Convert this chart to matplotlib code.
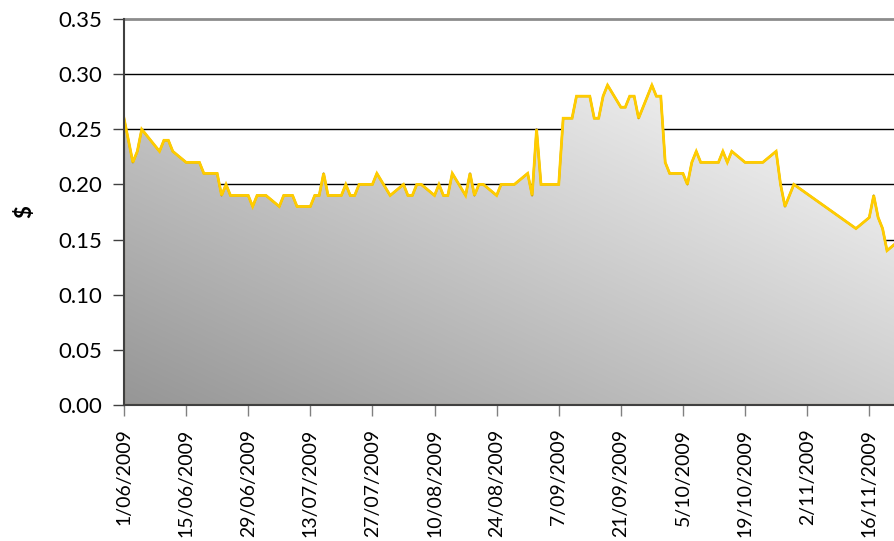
import matplotlib
matplotlib.use("Agg")
import matplotlib.pyplot as plt
import matplotlib.dates as mdates
import numpy as np
import datetime as dt

plt.rcParams['font.family'] = ['Lato', 'DejaVu Sans']

dates = [
    "2009-06-01", "2009-06-03", "2009-06-04", "2009-06-05", "2009-06-09", "2009-06-10",
    "2009-06-11", "2009-06-12", "2009-06-15", "2009-06-18", "2009-06-19", "2009-06-22",
    "2009-06-23", "2009-06-24", "2009-06-25", "2009-06-29", "2009-06-30", "2009-07-01",
    "2009-07-03", "2009-07-06", "2009-07-07", "2009-07-09", "2009-07-10", "2009-07-13",
    "2009-07-14", "2009-07-15", "2009-07-16", "2009-07-17", "2009-07-20", "2009-07-21",
    "2009-07-22", "2009-07-23", "2009-07-24", "2009-07-27", "2009-07-28", "2009-07-31",
    "2009-08-03", "2009-08-04", "2009-08-05", "2009-08-06", "2009-08-07", "2009-08-10",
    "2009-08-11", "2009-08-12", "2009-08-13", "2009-08-14", "2009-08-17", "2009-08-18",
    "2009-08-19", "2009-08-20", "2009-08-21", "2009-08-24", "2009-08-25", "2009-08-28",
    "2009-08-31", "2009-09-01", "2009-09-02", "2009-09-03", "2009-09-07", "2009-09-08",
    "2009-09-10", "2009-09-11", "2009-09-14", "2009-09-15", "2009-09-16", "2009-09-17",
    "2009-09-18", "2009-09-21", "2009-09-22", "2009-09-23", "2009-09-24", "2009-09-25",
    "2009-09-28", "2009-09-29", "2009-09-30", "2009-10-01", "2009-10-02", "2009-10-05",
    "2009-10-06", "2009-10-07", "2009-10-08", "2009-10-09", "2009-10-13", "2009-10-14",
    "2009-10-15", "2009-10-16", "2009-10-19", "2009-10-23", "2009-10-26", "2009-10-27",
    "2009-10-28", "2009-10-29", "2009-10-30", "2009-11-13", "2009-11-16", "2009-11-17",
    "2009-11-18", "2009-11-19", "2009-11-20", "2009-11-23",
]
prices = [
    0.26, 0.22, 0.23, 0.25, 0.23, 0.24,
    0.24, 0.23, 0.22, 0.22, 0.21, 0.21,
    0.19, 0.20, 0.19, 0.19, 0.18, 0.19,
    0.19, 0.18, 0.19, 0.19, 0.18, 0.18,
    0.19, 0.19, 0.21, 0.19, 0.19, 0.20,
    0.19, 0.19, 0.20, 0.20, 0.21, 0.19,
    0.20, 0.19, 0.19, 0.20, 0.20, 0.19,
    0.20, 0.19, 0.19, 0.21, 0.19, 0.21,
    0.19, 0.20, 0.20, 0.19, 0.20, 0.20,
    0.21, 0.19, 0.25, 0.20, 0.20, 0.26,
    0.26, 0.28, 0.28, 0.26, 0.26, 0.28,
    0.29, 0.27, 0.27, 0.28, 0.28, 0.26,
    0.29, 0.28, 0.28, 0.22, 0.21, 0.21,
    0.20, 0.22, 0.23, 0.22, 0.22, 0.23,
    0.22, 0.23, 0.22, 0.22, 0.23, 0.20,
    0.18, 0.19, 0.20, 0.16, 0.17, 0.19,
    0.17, 0.16, 0.14, 0.15,
]
tick_dates = ["2009-06-01", "2009-06-15", "2009-06-29", "2009-07-13", "2009-07-27",
              "2009-08-10", "2009-08-24", "2009-09-07", "2009-09-21", "2009-10-05",
              "2009-10-19", "2009-11-02", "2009-11-16"]
tick_labels = ["1/06/2009", "15/06/2009", "29/06/2009", "13/07/2009", "27/07/2009",
               "10/08/2009", "24/08/2009", "7/09/2009", "21/09/2009", "5/10/2009",
               "19/10/2009", "2/11/2009", "16/11/2009"]
y_ticks = [0.00, 0.05, 0.10, 0.15, 0.20, 0.25, 0.30, 0.35]
y_label = "$"

x = mdates.date2num([dt.datetime.strptime(d, "%Y-%m-%d") for d in dates])
xt = mdates.date2num([dt.datetime.strptime(d, "%Y-%m-%d") for d in tick_dates])
y = np.array(prices)

W, H = 895, 541
fig = plt.figure(figsize=(W / 100, H / 100), dpi=100)
ax = fig.add_axes([124 / W, (H - 405) / H, (W - 124) / W, (405 - 19) / H])

x0 = x[0]
x1 = x0 + 173.8
ax.set_xlim(x0, x1)
ax.set_ylim(0, 0.35)

# gridlines
for v in y_ticks[1:-1]:
    ax.axhline(v, color='black', lw=1.0, zorder=1)
ax.axhline(0.35, color='#8c8c8c', lw=2.0, zorder=1, clip_on=False)

# gradient fill clipped to area
poly = ax.fill_between(x, y, 0, facecolor='none', edgecolor='#9a7c10', lw=1.5, zorder=3)
ny, nx = 200, 400
gx = np.linspace(0, 1, nx)
gy = np.linspace(0, 1, ny)
GX, GY = np.meshgrid(gx, gy)
G = np.clip(150 + 54 * GX + 59 * GY, 0, 250) / 255.0
rgb = np.dstack([G, G, G])
im = ax.imshow(rgb, origin='lower', aspect='auto',
               extent=[x0, x1, 0, 0.35], zorder=2, interpolation='bilinear')
path = poly.get_paths()[0]
im.set_clip_path(path, transform=ax.transData)

ax.plot(x, y, color='#FFCC00', lw=2.0, zorder=4, solid_joinstyle='miter')

for s in ['top', 'right']:
    ax.spines[s].set_visible(False)
ax.spines['left'].set_color('#404040')
ax.spines['left'].set_linewidth(1.5)
ax.spines['bottom'].set_color('#404040')
ax.spines['bottom'].set_linewidth(1.5)
ax.spines['left'].set_zorder(5)
ax.spines['bottom'].set_zorder(5)

ax.set_yticks(y_ticks)
ax.set_yticklabels([f"{v:.2f}" for v in y_ticks])
ax.set_xticks(xt)
ax.set_xticklabels(tick_labels, rotation=90, va='top')
ax.tick_params(axis='y', direction='out', length=8, width=1, color='#404040', pad=8, labelsize=16)
ax.tick_params(axis='x', direction='out', length=8, width=1, color='#808080', pad=9, labelsize=14)
ax.set_ylabel(y_label, fontsize=16, fontweight='bold', labelpad=16)
ax.set_facecolor('white')

fig.savefig("out.png", dpi=100)
